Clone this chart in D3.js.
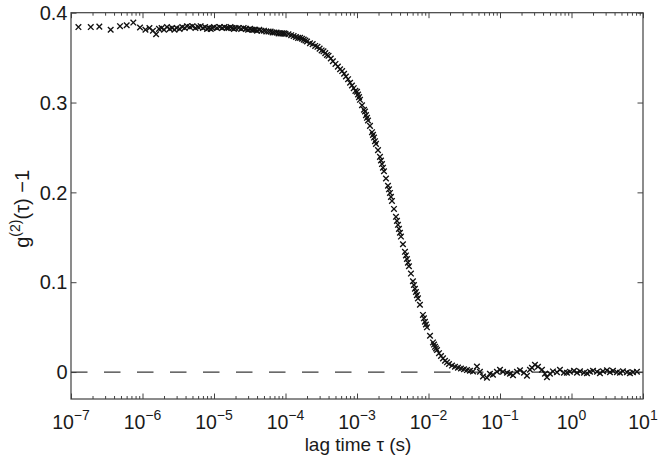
<!DOCTYPE html>
<html><head><meta charset="utf-8">
<script src="https://cdn.jsdelivr.net/npm/d3@7"></script>
<style>
body{margin:0;background:#fff}
text{font-family:"Liberation Sans",Arial,Helvetica,sans-serif;fill:#1a1a1a}
</style>
</head><body>
<svg id="c" width="661" height="460"></svg>
<script>
// ---- data ----
const tauPlateau = [
  1.27e-7, 1.89e-7, 2.49e-7, 3.59e-7, 4.85e-7, 6.01e-7, 7.44e-7, 9.23e-7,
  1.1e-6, 1.25e-6, 1.4e-6, 1.55e-6, 1.7e-6, 1.85e-6, 2.0e-6, 2.2e-6, 2.4e-6, 2.6e-6, 2.8e-6, 3.0e-6, 3.3e-6, 3.6e-6,
  3.9e-6, 4.2e-6, 4.6e-6, 5.0e-6, 5.5e-6, 6.0e-6, 6.5e-6, 7.0e-6, 7.5e-6, 8.0e-6, 8.5e-6, 9.0e-6, 9.5e-6,
  1.0e-5, 1.1e-5, 1.2e-5, 1.3e-5, 1.4e-5, 1.5e-5, 1.6e-5, 1.7e-5, 1.8e-5, 1.9e-5, 2.0e-5, 2.2e-5, 2.4e-5, 2.6e-5,
  2.8e-5, 3.0e-5, 3.2e-5, 3.4e-5, 3.6e-5, 3.8e-5, 4.0e-5, 4.3e-5, 4.6e-5, 5.0e-5, 5.4e-5, 5.8e-5, 6.2e-5, 6.6e-5,
  7.0e-5, 7.5e-5, 8.0e-5, 8.5e-5, 9.0e-5, 9.5e-5
];
const gPlateau = [
  0.384, 0.384, 0.3845, 0.381, 0.385, 0.386, 0.389, 0.3835,
  0.381, 0.383, 0.380, 0.376, 0.382, 0.383, 0.381, 0.384, 0.382, 0.383, 0.381, 0.383, 0.382, 0.384,
  0.383, 0.385, 0.384, 0.385, 0.383, 0.384, 0.385, 0.383, 0.384, 0.382, 0.383, 0.382, 0.383,
  0.384, 0.383, 0.384, 0.383, 0.384, 0.383, 0.383, 0.384, 0.383, 0.382, 0.383, 0.383, 0.382, 0.383,
  0.382, 0.381, 0.382, 0.381, 0.381, 0.381, 0.380, 0.381, 0.380, 0.380, 0.379, 0.379, 0.379, 0.378,
  0.378, 0.378, 0.377, 0.377, 0.377, 0.377
];
const tauDecay = [
  1.0e-4, 1.1e-4, 1.2e-4, 1.3e-4, 1.4e-4, 1.5e-4, 1.6e-4, 1.7e-4, 1.8e-4, 1.9e-4, 2.0e-4, 2.2e-4, 2.4e-4, 2.6e-4,
  2.8e-4, 3.0e-4, 3.2e-4, 3.4e-4, 3.6e-4, 3.8e-4, 4.0e-4, 4.3e-4, 4.6e-4, 5.0e-4, 5.4e-4, 5.8e-4, 6.2e-4, 6.6e-4,
  7.0e-4, 7.5e-4, 8.0e-4, 8.5e-4, 9.0e-4, 9.5e-4,
  1.000e-3, 1.033e-3, 1.067e-3, 1.101e-3, 1.175e-3, 1.253e-3, 1.294e-3, 1.336e-3, 1.380e-3, 1.425e-3, 1.520e-3,
  1.621e-3, 1.674e-3, 1.728e-3, 1.785e-3, 1.843e-3, 1.966e-3, 2.096e-3, 2.165e-3, 2.236e-3, 2.309e-3, 2.384e-3,
  2.543e-3, 2.712e-3, 2.800e-3, 2.892e-3, 2.986e-3, 3.084e-3, 3.289e-3, 3.507e-3, 3.622e-3, 3.740e-3, 3.862e-3,
  3.989e-3, 4.119e-3, 4.393e-3, 4.685e-3, 4.838e-3, 4.996e-3, 5.159e-3, 5.328e-3, 5.682e-3, 6.059e-3, 6.258e-3,
  6.462e-3, 6.673e-3, 6.892e-3, 7.117e-3, 7.590e-3, 8.359e-3, 8.633e-3, 8.915e-3, 9.206e-3, 9.507e-3,
  1.050e-2, 1.156e-2, 1.194e-2, 1.233e-2, 1.273e-2, 1.315e-2, 1.402e-2, 1.496e-2, 1.595e-2, 1.701e-2, 1.814e-2,
  1.935e-2, 2.131e-2, 2.346e-2, 2.584e-2, 2.845e-2, 3.134e-2, 3.451e-2, 3.800e-2
];
const gDecay = [
  0.3765, 0.376, 0.375, 0.374, 0.373, 0.372, 0.372, 0.371, 0.370, 0.369, 0.368, 0.366, 0.365, 0.363,
  0.362, 0.360, 0.358, 0.357, 0.355, 0.353, 0.352, 0.349, 0.346, 0.343, 0.340, 0.337, 0.335, 0.332,
  0.329, 0.326, 0.322, 0.319, 0.316, 0.313,
  0.312, 0.309, 0.306, 0.303, 0.297, 0.292, 0.290, 0.286, 0.283, 0.280, 0.274,
  0.267, 0.264, 0.261, 0.257, 0.254, 0.247, 0.2395, 0.2355, 0.2315, 0.2275, 0.2235,
  0.2155, 0.2074, 0.2034, 0.1994, 0.195, 0.1905, 0.1816, 0.1728, 0.1683, 0.1639, 0.1594,
  0.155, 0.1508, 0.1423, 0.1338, 0.1298, 0.1258, 0.1218, 0.1178, 0.1096, 0.1011, 0.0969,
  0.0927, 0.0891, 0.0856, 0.082, 0.0749, 0.0636, 0.0598, 0.056, 0.0529, 0.0498,
  0.0404, 0.033, 0.0306, 0.0281, 0.0263, 0.0245, 0.021, 0.0179, 0.0152, 0.0126, 0.0108,
  0.009, 0.0072, 0.0059, 0.0049, 0.0039, 0.0031, 0.0022, 0.0014
];
const tauBase = [
  4.19e-2, 4.76e-2, 5.24e-2, 5.78e-2, 6.57e-2, 7.23e-2, 7.97e-2, 9.06e-2,
  0.100, 0.1101, 0.1253, 0.1380, 0.1520, 0.1728, 0.1904, 0.2165, 0.2384, 0.2626, 0.2800, 0.3084,
  0.3396, 0.3862, 0.4254, 0.4536, 0.4996, 0.5502, 0.6258, 0.6892, 0.7838, 0.8633, 0.9507,
  1.084, 1.194, 1.315, 1.496, 1.647, 1.814, 2.0, 2.272, 2.50, 2.756, 3.134, 3.451, 3.800, 4.323,
  4.76, 5.24, 5.96, 6.567, 7.233, 8.227
];
const gBase = [
  0.0007, 0.0062, 0.0003, -0.0049, -0.0063, -0.0019, -0.003, 0.0003,
  0.0026, 0.0003, -0.0008, -0.0019, -0.0036, 0.0003, 0.002, -0.0008, -0.0041, 0.0026, 0.0048, 0.0081,
  0.0059, 0.0026, -0.0019, -0.0058, -0.0019, 0.0007, -0.0002, 0.0026, -0.0008, -0.0008, 0.0003,
  0.0014, -0.0008, 0.0009, -0.0008, -0.0013, 0.0003, 0.0014, 0.0003, -0.0013, 0.0009, 0.002, -0.0002, 0.0014,
  -0.0002, -0.0008, 0.0009, -0.0002, -0.0013, -0.0002, 0.0003
];
const xTicks = [1e-7, 1e-6, 1e-5, 1e-4, 1e-3, 1e-2, 1e-1, 1e0, 1e1];
const xTickExp = ["\u22127", "\u22126", "\u22125", "\u22124", "\u22123", "\u22122", "\u22121", "0", "1"];
const yTicks = [0, 0.1, 0.2, 0.3, 0.4];
const yTickLabels = ["0", "0.1", "0.2", "0.3", "0.4"];
const refLevel = [0];
const xDomain = [1e-7, 10];
const yDomain = [-0.03, 0.4];

// ---- drawing ----
const svg = d3.select("#c");
const L = 71, R = 643, T = 12.7, B = 399;
const x = d3.scaleLog().domain(xDomain).range([L, R]);
const y = d3.scaleLinear().domain(yDomain).range([B, T]);
const axisColor = "#404040";

const tau = tauPlateau.concat(tauDecay, tauBase);
const gv = gPlateau.concat(gDecay, gBase);
const pts = tau.map((t, i) => ({t, g: gv[i]}));

const minor = [];
for (let e = -7; e < 1; e++) for (let m = 2; m <= 9; m++) minor.push(m * Math.pow(10, e));

function styleAxis(g) {
  g.select(".domain").remove();
  g.selectAll("line").attr("stroke", axisColor).attr("stroke-width", 1);
}
svg.append("g").attr("transform", `translate(0,${B})`)
  .call(d3.axisBottom(x).tickValues(xTicks).tickSize(-5.5).tickFormat("")).call(styleAxis);
svg.append("g").attr("transform", `translate(0,${B})`)
  .call(d3.axisBottom(x).tickValues(minor).tickSize(-3).tickFormat("")).call(styleAxis);
svg.append("g").attr("transform", `translate(0,${T})`)
  .call(d3.axisTop(x).tickValues(xTicks).tickSize(-5.5).tickFormat("")).call(styleAxis);
svg.append("g").attr("transform", `translate(0,${T})`)
  .call(d3.axisTop(x).tickValues(minor).tickSize(-3).tickFormat("")).call(styleAxis);
svg.append("g").attr("transform", `translate(${L},0)`)
  .call(d3.axisLeft(y).tickValues(yTicks).tickSize(-5.5).tickFormat("")).call(styleAxis);
svg.append("g").attr("transform", `translate(${R},0)`)
  .call(d3.axisRight(y).tickValues(yTicks).tickSize(-5.5).tickFormat("")).call(styleAxis);

svg.append("rect").attr("x", L).attr("y", T).attr("width", R - L).attr("height", B - T)
  .attr("fill", "none").attr("stroke", axisColor).attr("stroke-width", 1.2);

svg.selectAll(".ref").data(refLevel).enter().append("line")
  .attr("x1", x(xDomain[0])).attr("x2", x(xDomain[1]))
  .attr("y1", d => y(d)).attr("y2", d => y(d))
  .attr("stroke", "#3a3a3a").attr("stroke-width", 1.3).attr("stroke-dasharray", "16.5,16.5");

const s = 2.8;
svg.append("g").selectAll("path").data(pts).enter().append("path")
  .attr("transform", d => `translate(${x(d.t)},${y(d.g)})`)
  .attr("d", `M${-s},${-s}L${s},${s}M${-s},${s}L${s},${-s}`)
  .attr("stroke", "#111").attr("stroke-width", 1.35).attr("fill", "none");

const xl = svg.append("g");
xTicks.forEach((v, i) => {
  const t = xl.append("text").attr("x", x(v)).attr("y", 428.5).attr("text-anchor", "middle")
    .style("font-size", "19.5px");
  t.append("tspan").text("10");
  t.append("tspan").attr("dy", -9).style("font-size", "14px").text(xTickExp[i]);
});
yTicks.forEach((v, i) => {
  svg.append("text").attr("x", 67.5).attr("y", y(v)).attr("dy", "0.36em")
    .attr("text-anchor", "end").style("font-size", "20px").text(yTickLabels[i]);
});
svg.append("text").attr("x", (L + R) / 2 + 1).attr("y", 451).attr("text-anchor", "middle")
  .style("font-size", "19px").text("lag time \u03c4 (s)");
const yl = svg.append("text").attr("transform", `translate(29,${(T + B) / 2 + 3}) rotate(-90)`)
  .attr("text-anchor", "middle").style("font-size", "20px");
yl.append("tspan").text("g");
yl.append("tspan").attr("dy", -9).style("font-size", "14px").text("(2)");
yl.append("tspan").attr("dy", 9).text("(\u03c4) \u22121");
</script>
</body></html>
